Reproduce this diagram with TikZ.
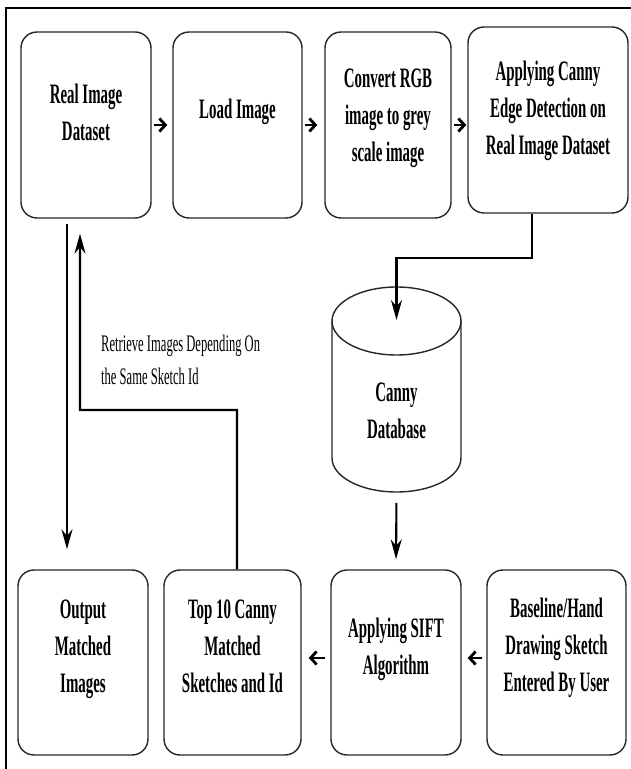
\documentclass[tikz,border=0pt]{standalone}
\usepackage{fontspec}
\setmainfont{Liberation Serif}[FakeStretch=0.53]
\usetikzlibrary{arrows.meta}
% lines of a box, with room left under them
\newcommand{\boxlines}[2][0.4cm]{\begin{tabular}{@{}c@{}}#2\\[#1]\end{tabular}}

\begin{document}
\begin{tikzpicture}[
  stepbox/.style={draw=black!85, line width=0.8pt, rounded corners=0.32cm, minimum height=3.72cm, font=\fontsize{16}{21}\selectfont\bfseries},
  lowbox/.style={stepbox, minimum height=3.7cm},
  store/.style={minimum width=2.58cm, minimum height=4.1cm, outer sep=0pt, inner sep=0pt},
  storeline/.style={draw=black!85, line width=0.8pt},
  flow/.style={line width=1.2pt, -{Stealth[length=0.4cm,width=0.22cm]}},
  nudge/.style={line width=1.6pt, -{Straight Barb[length=0.12cm,width=0.26cm]}},
  note/.style={align=left, anchor=west, font=\fontsize{13.5}{19}\selectfont}
]
\useasboundingbox (0,0) rectangle (12.62,15.38);
%frame
\draw[line width=1.1pt] (0.12,0) -- (0.12,15.22) -- (12.62,15.22);

%top row
\node[stepbox, minimum width=2.6cm] (realdata) at (1.72,12.88) {\boxlines{Real Image\\Dataset}};
\node[stepbox, minimum width=2.58cm] (load) at (4.75,12.88) {\boxlines[0.55cm]{Load Image}};
\node[stepbox, minimum width=2.52cm] (grey) at (7.76,12.88) {\boxlines[0.3cm]{Convert RGB\\image to grey\\scale image}};
\node[stepbox, minimum width=3.2cm] (canny) at (10.96,12.98) {\boxlines{Applying Canny\\Edge Detection on\\Real Image Dataset}};

\draw[nudge, shorten <=0.04cm, shorten >=0.1cm] (realdata.east) -- (realdata.east -| load.west);
\draw[nudge, shorten <=0.04cm, shorten >=0.14cm] (load.east) -- (load.east -| grey.west);
\draw[nudge, shorten <=0.04cm, shorten >=0.02cm] (grey.east) -- (grey.east -| canny.west);

%database
\node[store] (db) at (7.93,7.59) {};
\draw[storeline] ([yshift=-0.68cm]db.north west) -- ([yshift=0.68cm]db.south west)
  arc[start angle=180, end angle=360, x radius=1.29cm, y radius=0.68cm] -- ([yshift=-0.68cm]db.north east);
\draw[storeline] ([yshift=-0.68cm]db.north) ellipse [x radius=1.29cm, y radius=0.68cm];
\node[font=\fontsize{16}{21}\selectfont\bfseries, align=center] (dbtext) at (7.93,7.17) {Canny\\Database};
\draw[flow] ([xshift=-0.32cm]canny.south) |- ([yshift=0.58cm]db.north) -- ([yshift=-0.66cm]db.north);

%bottom row
\node[lowbox, minimum width=2.6cm] (output) at (1.66,2.13) {\boxlines[0.56cm]{Output\\Matched\\Images}};
\node[lowbox, minimum width=2.74cm] (topten) at (4.65,2.13) {\boxlines[0.56cm]{Top 10 Canny\\Matched\\Sketches and Id}};
\node[lowbox, minimum width=2.6cm] (sift) at (7.92,2.13) {\boxlines[0.56cm]{Applying SIFT\\Algorithm}};
\node[lowbox, minimum width=2.78cm] (sketch) at (11.13,2.13) {\boxlines[0.6cm]{Baseline/Hand\\Drawing Sketch\\Entered By User}};

\draw[flow, shorten <=0.22cm, shorten >=0.2cm] (db.south) -- (sift.north);
\draw[nudge, shorten <=0.08cm, shorten >=0.12cm] ([yshift=0.09cm]sketch.west) -- ([yshift=0.09cm]sketch.west -| sift.east);
\draw[nudge, shorten <=0.1cm, shorten >=0.14cm] ([yshift=0.09cm]sift.west) -- ([yshift=0.09cm]sift.west -| topten.east);

%retrieve loop
\draw[flow, shorten <=0.1cm, shorten >=0.4cm] ([xshift=-0.38cm]realdata.south) -- ([xshift=-0.38cm]realdata.south |- output.north);
\coordinate (turn) at (1.6,7.18);
\draw[flow, shorten >=0.3cm] ([xshift=0.09cm]topten.north) |- (turn) -- ([xshift=-0.12cm]realdata.south);
\node[note] (retrlabel) at (1.9,8.18) {Retrieve Images Depending On\\the Same Sketch Id};
\end{tikzpicture}
\end{document}
